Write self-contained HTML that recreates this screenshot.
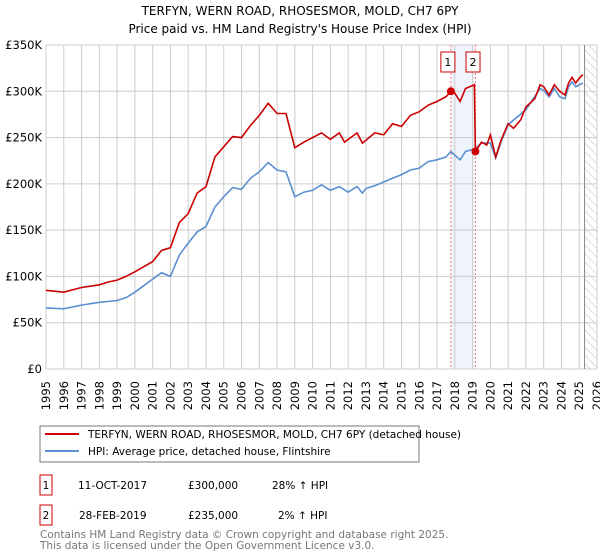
<!DOCTYPE html>
<html><head><meta charset="utf-8"><style>
body{margin:0;background:#fff;width:600px;height:560px;overflow:hidden;font-family:"DejaVu Sans","Liberation Sans",sans-serif;}
svg{display:block}
</style></head><body>
<svg id="c" width="600" height="560" xmlns="http://www.w3.org/2000/svg" font-family="DejaVu Sans, Liberation Sans, sans-serif">
<text x="300" y="15" text-anchor="middle" font-size="12" fill="#000">TERFYN, WERN ROAD, RHOSESMOR, MOLD, CH7 6PY</text>
<text x="300" y="33" text-anchor="middle" font-size="12" fill="#000">Price paid vs. HM Land Registry's House Price Index (HPI)</text>
<defs><pattern id="h" width="6" height="6" patternUnits="userSpaceOnUse" patternTransform="rotate(-45)"><line x1="0" y1="0" x2="0" y2="6" stroke="#bbb" stroke-width="1"/></pattern></defs>
<g id="grid"></g><g id="marks"></g><g id="axes"></g>
<g>
<rect x="40" y="426" width="379" height="36" fill="#fff" stroke="#777"/>
<line x1="45" y1="434" x2="79" y2="434" stroke="#cc0000" stroke-width="2"/>
<text x="88" y="438" font-size="10.5">TERFYN, WERN ROAD, RHOSESMOR, MOLD, CH7 6PY (detached house)</text>
<line x1="45" y1="451" x2="79" y2="451" stroke="#5b8fd0" stroke-width="2"/>
<text x="88" y="455" font-size="10.5">HPI: Average price, detached house, Flintshire</text>
</g>
<g font-size="10.5">
<rect x="40" y="475" width="12" height="20" fill="#fff" stroke="#cc0000"/>
<text x="46" y="489" text-anchor="middle">1</text>
<text x="78" y="489">11-OCT-2017</text><text x="188" y="489">£300,000</text><text x="272" y="489">28% ↑ HPI</text>
<rect x="40" y="505" width="12" height="20" fill="#fff" stroke="#cc0000"/>
<text x="46" y="519" text-anchor="middle">2</text>
<text x="79" y="519">28-FEB-2019</text><text x="188" y="519">£235,000</text><text x="278" y="519">2% ↑ HPI</text>
</g>
<text x="40" y="538" font-size="10.5" fill="#777">Contains HM Land Registry data © Crown copyright and database right 2025.</text>
<text x="40" y="549" font-size="10.5" fill="#777">This data is licensed under the Open Government Licence v3.0.</text>
</svg>
<script>
const yTicks=[0,50000,100000,150000,200000,250000,300000,350000];
const yTickLabels=["£0","£50K","£100K","£150K","£200K","£250K","£300K","£350K"];
const xYears=[1995,1996,1997,1998,1999,2000,2001,2002,2003,2004,2005,2006,2007,2008,2009,2010,2011,2012,2013,2014,2015,2016,2017,2018,2019,2020,2021,2022,2023,2024,2025,2026];
const hpiDates=[1995,1996,1997,1998,1999,1999.5,2000,2001,2001.5,2002,2002.5,2003,2003.5,2004,2004.5,2005,2005.5,2006,2006.5,2007,2007.5,2008,2008.5,2009,2009.5,2010,2010.5,2011,2011.5,2012,2012.5,2012.8,2013,2013.5,2014,2014.5,2015,2015.5,2016,2016.5,2017,2017.5,2017.78,2018,2018.3,2018.6,2019.16,2019.5,2020,2020.3,2020.6,2021,2022,2022.8,2023,2023.3,2023.6,2023.9,2024.2,2024.4,2024.6,2024.8,2025.2];
const hpiValues=[66000,65000,69000,72000,74000,77000,83000,97000,104000,100000,123000,136000,148000,154000,175000,186000,196000,194000,206000,213000,223000,215000,213000,186000,191000,193000,199000,193000,197000,191000,197000,190000,195000,198000,202000,206000,210000,215000,217000,224000,226000,229000,235000,231000,226000,235000,238000,244000,244000,228000,245000,264000,280000,303000,301000,294000,303000,294000,292000,305000,310000,305000,309000];
const priceDates=[1995,1996,1997,1998,1998.5,1999,1999.5,2000,2001,2001.5,2002,2002.5,2003,2003.5,2004,2004.5,2005,2005.5,2006,2006.5,2007,2007.5,2008,2008.5,2009,2009.5,2010,2010.5,2011,2011.5,2011.8,2012,2012.5,2012.8,2013,2013.5,2014,2014.5,2015,2015.5,2016,2016.5,2017,2017.5,2017.78,2018,2018.3,2018.6,2019.1,2019.16,2019.5,2019.8,2020,2020.3,2020.6,2021,2021.3,2021.7,2022,2022.5,2022.8,2023,2023.3,2023.6,2023.9,2024.2,2024.4,2024.6,2024.8,2025,2025.2];
const priceValues=[85000,83000,88000,91000,94000,96000,100000,105000,116000,128000,131000,158000,168000,190000,197000,229000,240000,251000,250000,263000,274000,287000,276000,276000,239000,245000,250000,255000,248000,255000,245000,248000,255000,244000,247000,255000,253000,265000,262000,274000,278000,285000,289000,294000,300000,298000,289000,303000,307000,235000,245000,242000,253000,229000,247000,265000,260000,269000,283000,292000,307000,305000,296000,307000,300000,296000,309000,315000,309000,314000,318000];
const saleDates=[2017.78,2019.16];
const saleValues=[300000,235000];
const saleLabels=["1","2"];
const NS="http://www.w3.org/2000/svg";
const X0=46,X1=597,Y0=369,Y1=45;
const xs=d=>X0+(d-1995)/(2026-1995)*(X1-X0);
const ys=v=>Y0-v/350000*(Y0-Y1);
function mk(p,t,a){const e=document.createElementNS(NS,t);for(const k in a)e.setAttribute(k,a[k]);p.appendChild(e);return e;}
const grid=document.getElementById('grid'),marks=document.getElementById('marks'),axes=document.getElementById('axes');
mk(grid,'rect',{x:X0,y:Y1,width:X1-X0,height:Y0-Y1,fill:'#fff'});
mk(grid,'rect',{x:xs(saleDates[0]),y:Y1,width:xs(saleDates[1])-xs(saleDates[0]),height:Y0-Y1,fill:'#eef3fc'});
mk(grid,'rect',{x:xs(2025.3),y:Y1,width:X1-xs(2025.3),height:Y0-Y1,fill:'url(#h)'});
yTicks.forEach((v,i)=>{
 const l=mk(grid,'line',{x1:X0,x2:X1,y1:ys(v),y2:ys(v),stroke:'#ccc'});
 
 
 const t=mk(axes,'text',{x:X0-4,y:ys(v)+4,'text-anchor':'end','font-size':11.5});
 t.textContent=yTickLabels[i];
 
 
});
xYears.forEach(y=>{
 const l=mk(grid,'line',{x1:xs(y),x2:xs(y),y1:Y1,y2:Y0,stroke:'#ccc'});
 
 
 const g=mk(axes,'g',{transform:'translate('+(xs(y)+4).toFixed(1)+',381) rotate(-90)'});
 const t=mk(g,'text',{x:0,y:0,'text-anchor':'end','font-size':11.5});
 t.textContent=y;
 
 
});
mk(grid,'line',{x1:xs(2025.3),x2:xs(2025.3),y1:Y1,y2:Y0,stroke:'#888'});
saleDates.forEach(d=>{const l=mk(grid,'line',{x1:xs(d),x2:xs(d),y1:Y1,y2:Y0,stroke:'#f77','stroke-dasharray':'2,2'});
 
 });
const pts=(ds,vs)=>ds.map((d,i)=>xs(d).toFixed(1)+','+ys(vs[i]).toFixed(1)).join(' ');
const hp=mk(marks,'polyline',{points:pts(hpiDates,hpiValues),fill:'none',stroke:'#5b8fd0','stroke-width':1.6});


const pp=mk(marks,'polyline',{points:pts(priceDates,priceValues),fill:'none',stroke:'#cc0000','stroke-width':1.6});


saleDates.forEach((d,i)=>{
 const c=mk(marks,'circle',{cx:xs(d),cy:ys(saleValues[i]),r:4,fill:'#cc0000'});
 
 
 const bx=xs(d)-(i===0?3:2.4);
 const r=mk(marks,'rect',{x:bx-7,y:52,width:14,height:20,fill:'#fff',stroke:'#cc0000'});
 
 
 const t=mk(marks,'text',{x:bx,y:66,'text-anchor':'middle','font-size':11});
 t.textContent=saleLabels[i];
 
 
});
</script>
</body></html>
